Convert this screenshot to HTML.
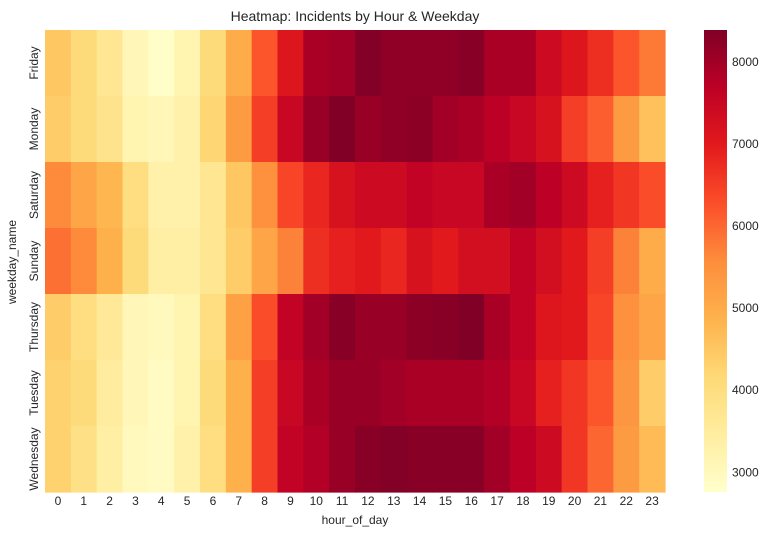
<!DOCTYPE html>
<html><head><meta charset="utf-8"><style>
html,body{margin:0;padding:0;background:#fff;}
svg{display:block;font-family:"Liberation Sans","DejaVu Sans",sans-serif;}
</style></head><body>
<svg id="chart" width="772" height="536" viewBox="0 0 772 536" xmlns="http://www.w3.org/2000/svg">
<defs><linearGradient id="cbgrad" x1="0" y1="1" x2="0" y2="0">
<stop offset="0" stop-color="#ffffcc"/><stop offset="0.125" stop-color="#ffeda0"/><stop offset="0.25" stop-color="#fed976"/><stop offset="0.375" stop-color="#feb24c"/><stop offset="0.5" stop-color="#fd8d3c"/><stop offset="0.625" stop-color="#fc4e2a"/><stop offset="0.75" stop-color="#e31a1c"/><stop offset="0.875" stop-color="#bd0026"/><stop offset="1" stop-color="#800026"/>
</linearGradient></defs>
<text x="355" y="21" text-anchor="middle" font-size="14" fill="#262626">Heatmap: Incidents by Hour &amp; Weekday</text>
<g id="cells"></g>
<g id="xticks"></g>
<g id="yticks"></g>
<text x="355" y="524" text-anchor="middle" font-size="12" fill="#262626">hour_of_day</text>
<text transform="translate(16,262) rotate(-90)" text-anchor="middle" font-size="12" fill="#262626">weekday_name</text>
<rect x="704" y="30" width="23" height="462" fill="url(#cbgrad)"/>
<g id="cbticks"></g>
</svg>
<script>
const days = ["Friday","Monday","Saturday","Sunday","Thursday","Tuesday","Wednesday"];
const hours = [0,1,2,3,4,5,6,7,8,9,10,11,12,13,14,15,16,17,18,19,20,21,22,23];
const friday = [4500,4100,3700,3100,2800,3200,4100,5000,6200,7100,7900,8000,8350,8200,8200,8200,8300,7900,7900,7400,7100,6700,6200,5800];
const monday = [4400,4100,3800,3200,3100,3300,4200,5300,6500,7500,8100,8400,8100,8200,8250,8000,7900,7700,7500,7200,6500,6100,5300,4600];
const saturday = [5600,5100,4800,4000,3300,3300,3700,4500,5500,6400,6800,7200,7400,7400,7600,7500,7500,7900,8000,7700,7400,6900,6600,6300];
const sunday = [5900,5600,4900,4100,3400,3400,3700,4400,5100,5700,6700,6900,7000,6800,7200,7000,7300,7300,7600,7300,7000,6500,5700,5000];
const thursday = [4400,4000,3600,3100,3000,3200,4000,5200,6300,7600,8000,8300,8100,8100,8250,8300,8400,7900,7600,7100,7000,6400,5500,5100];
const tuesday = [4300,4100,3500,3100,2900,3200,4100,4900,6500,7500,7900,8100,8100,8000,7900,7900,7900,7800,7500,6900,6600,6200,5400,4400];
const wednesday = [4300,3900,3400,3000,2900,3300,4000,4900,6500,7600,7800,8100,8300,8350,8300,8300,8300,8000,7700,7400,6600,6000,5300,4700];
const cbTicks = [3000,4000,5000,6000,7000,8000];
const vmin = 2760, vmax = 8390;

const rows = [friday,monday,saturday,sunday,thursday,tuesday,wednesday];
const X0=45, X1=665, Y0=30, Y1=492;
const cw=(X1-X0)/hours.length, rh=(Y1-Y0)/days.length;
const xOf = i => X0 + i*cw;
const yOf = j => Y0 + j*rh;
const cbY = v => Y1 - (v - vmin)/(vmax - vmin)*(Y1-Y0);
const stops = ["#ffffcc","#ffeda0","#fed976","#feb24c","#fd8d3c","#fc4e2a","#e31a1c","#bd0026","#800026"].map(h=>[1,3,5].map(k=>parseInt(h.substr(k,2),16)));
function color(v){
  let t=Math.max(0,Math.min(1,(v-vmin)/(vmax-vmin)))*(stops.length-1);
  let i=Math.min(Math.floor(t),stops.length-2), f=t-i;
  const c=stops[i].map((a,k)=>Math.round(a+(stops[i+1][k]-a)*f));
  return `rgb(${c[0]},${c[1]},${c[2]})`;
}
const NS="http://www.w3.org/2000/svg";
const cells=document.getElementById('cells');
rows.forEach((row,j)=>{
  row.forEach((v,i)=>{
    const r=document.createElementNS(NS,'rect');
    r.setAttribute('x',xOf(i)); r.setAttribute('y',yOf(j));
    r.setAttribute('width',cw+0.6); r.setAttribute('height',rh+0.6);
    r.setAttribute('fill',color(v));
    
    
    cells.appendChild(r);
  });
});
const xt=document.getElementById('xticks');
hours.forEach((h,i)=>{
  const t=document.createElementNS(NS,'text');
  t.setAttribute('x',xOf(i)+cw/2); t.setAttribute('y',505);
  t.setAttribute('text-anchor','middle'); t.setAttribute('font-size','12'); t.setAttribute('fill','#262626');
  t.textContent=h;
  
  
  xt.appendChild(t);
});
const yt=document.getElementById('yticks');
days.forEach((d,j)=>{
  const t=document.createElementNS(NS,'text');
  const cy=yOf(j)+rh/2;
  t.setAttribute('transform',`translate(38,${cy}) rotate(-90)`);
  t.setAttribute('text-anchor','middle'); t.setAttribute('font-size','12'); t.setAttribute('fill','#262626');
  t.textContent=d;
  
  
  yt.appendChild(t);
});
const cbt=document.getElementById('cbticks');
cbTicks.forEach(v=>{
  const t=document.createElementNS(NS,'text');
  t.setAttribute('x',732); t.setAttribute('y',cbY(v)+4);
  t.setAttribute('font-size','12'); t.setAttribute('fill','#262626');
  t.textContent=v;
  
  
  cbt.appendChild(t);
});
</script>
</body></html>
